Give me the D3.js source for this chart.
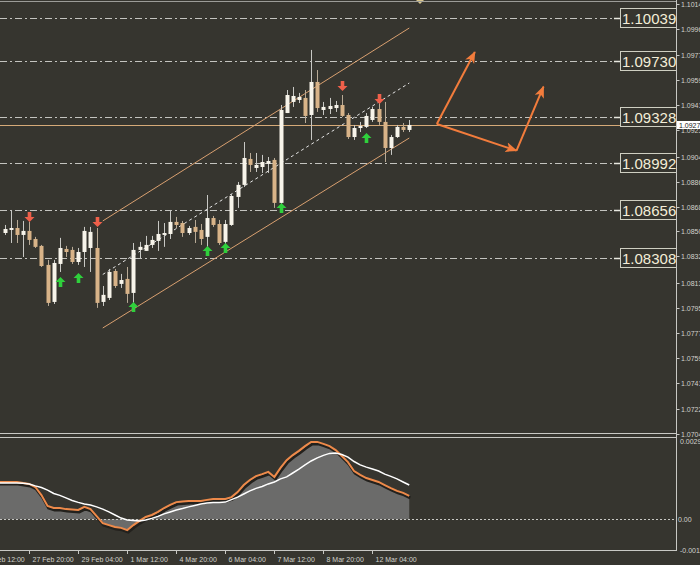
<!DOCTYPE html>
<html><head><meta charset="utf-8">
<script src="https://cdn.jsdelivr.net/npm/d3@7"></script>
<style>body{margin:0;background:#36352f;}svg{display:block}</style>
</head><body>
<svg id="c" width="700" height="565"></svg>
<script>
// ---------- DATA ----------
const barIdx = d3.range(67);
const openP  = [1.08489,1.08511,1.08525,1.08475,1.08504,1.08446,1.08396,1.08259,1.07992,1.08266,1.08374,1.08367,1.08280,1.08352,1.08381,1.08381,1.07992,1.08021,1.08215,1.08122,1.08158,1.08057,1.08367,1.08360,1.08403,1.08432,1.08475,1.08482,1.08569,1.08561,1.08489,1.08533,1.08511,1.08461,1.08597,1.08554,1.08425,1.08547,1.08749,1.08836,1.09023,1.08958,1.08965,1.08987,1.09016,1.08706,1.09354,1.09434,1.09448,1.09463,1.09340,1.09578,1.09376,1.09383,1.09390,1.09412,1.09340,1.09181,1.09246,1.09254,1.09304,1.09383,1.09290,1.09102,1.09181,1.09254,1.09232];
const highP  = [1.08547,1.08655,1.08583,1.08576,1.08569,1.08461,1.08403,1.08295,1.08295,1.08454,1.08396,1.08389,1.08381,1.08533,1.08533,1.08525,1.08107,1.08230,1.08230,1.08194,1.08244,1.08417,1.08425,1.08468,1.08468,1.08576,1.08561,1.08655,1.08605,1.08576,1.08540,1.08583,1.08554,1.08763,1.08612,1.08583,1.08583,1.08770,1.08857,1.09145,1.09066,1.09066,1.09052,1.09037,1.09030,1.09412,1.09520,1.09542,1.09499,1.09520,1.09809,1.09664,1.09434,1.09463,1.09441,1.09484,1.09354,1.09268,1.09290,1.09354,1.09398,1.09426,1.09434,1.09196,1.09268,1.09282,1.09304];
const lowP   = [1.08475,1.08417,1.08417,1.08316,1.08403,1.08381,1.08244,1.07963,1.07977,1.08208,1.08316,1.08266,1.08259,1.08244,1.08208,1.07949,1.07963,1.08006,1.08093,1.08093,1.07985,1.07985,1.08302,1.08360,1.08381,1.08360,1.08389,1.08446,1.08525,1.08461,1.08475,1.08417,1.08403,1.08381,1.08533,1.08403,1.08410,1.08540,1.08670,1.08821,1.08929,1.08929,1.08922,1.08922,1.08670,1.08691,1.09354,1.09398,1.09426,1.09282,1.09160,1.09362,1.09340,1.09347,1.09362,1.09326,1.09167,1.09160,1.09217,1.09246,1.09290,1.09268,1.09001,1.09052,1.09174,1.09217,1.09217];
const closeP = [1.08518,1.08525,1.08475,1.08504,1.08439,1.08389,1.08251,1.07985,1.08273,1.08381,1.08352,1.08280,1.08352,1.08504,1.08497,1.07985,1.08043,1.08208,1.08107,1.08150,1.08050,1.08367,1.08389,1.08403,1.08439,1.08482,1.08489,1.08569,1.08547,1.08489,1.08525,1.08497,1.08446,1.08597,1.08547,1.08417,1.08554,1.08756,1.08836,1.09030,1.08980,1.08980,1.09001,1.09008,1.08706,1.09376,1.09484,1.09477,1.09470,1.09333,1.09578,1.09390,1.09398,1.09405,1.09412,1.09333,1.09181,1.09246,1.09261,1.09333,1.09383,1.09290,1.09102,1.09181,1.09254,1.09232,1.09268];

// signal arrows: [bar, tip price]
const sellArrows = [[4,1.08569],[15,1.08533],[55,1.09513],[61,1.09419]];
const buyArrows  = [[9,1.08172],[12,1.08201],[21,1.07992],[33,1.08396],[36,1.08417],[45,1.08706],[59,1.09210]];

// oscillator (values x 1e-4), bars -1..66
const oscStart = -1;
const oscMain   = [13.3,13.3,13.3,13.3,12.9,12.6,11.5,8.6,4.7,4.0,4.0,3.6,3.5,3.3,4.4,3.6,1.1,-1.4,-2.1,-2.8,-3.1,-3.9,-2.1,-0.6,0.8,1.5,2.6,4.0,5.1,6.1,6.3,6.5,6.5,6.5,6.9,7.2,7.2,7.2,7.9,9.7,12.2,14.0,15.4,16.1,16.9,15.1,18.3,21.1,22.9,24.4,26.1,27.6,27.6,26.9,26.1,24.7,22.6,20.4,17.2,15.8,14.7,14.0,13.3,12.2,11.1,10.1,9.4,8.3];
const oscSignal = [12.9,12.9,12.9,12.9,12.8,12.6,11.9,11.3,10.4,9.2,8.5,7.6,6.7,6.0,5.4,5.1,4.4,3.6,2.6,1.5,0.4,-0.3,-0.5,-0.6,-0.3,0.3,1.0,1.9,2.6,3.3,3.8,4.4,4.9,5.4,5.8,6.0,6.0,6.1,7.0,7.9,9.0,10.1,11.0,11.7,12.6,13.3,14.4,15.1,16.5,17.9,19.4,20.8,21.9,22.8,23.5,23.6,23.1,22.2,20.6,19.4,18.6,17.9,17.2,16.1,15.3,14.4,13.3,12.2];

// price axis
const priceTicks = ["1.1014","1.0996","1.0977","1.0959","1.0941","1.0923","1.0904","1.0886","1.0868","1.0850","1.0832","1.0813","1.0795","1.0777","1.0759","1.0741","1.0722","1.0704"];
const levels = [1.10039,1.09730,1.09328,1.08992,1.08656,1.08308];
const currentPrice = 1.09268;
const oscTicks = [["0.0029",0.0029],["0.00",0],["-0.0011",-0.0011]];

// time axis
const timeTickBars = [-4,4,12,20,28,36,44,52,60];
const timeTickLabels = ["26 Feb 12:00","27 Feb 20:00","29 Feb 04:00","1 Mar 12:00","4 Mar 20:00","6 Mar 04:00","7 Mar 12:00","8 Mar 20:00","12 Mar 04:00"];

// channel [bar, price]
const chanUpper = [[16,1.08576],[66,1.09967]];
const chanLower = [[16,1.07804],[66,1.09174]];
// projection arrows
const projection = [[[70.5,1.09275],[76.7,1.09794]],[[70.5,1.09275],[83.5,1.09083]],[[83.5,1.09083],[87.9,1.09544]]];

// ---------- DRAW ----------
const bg = '#36352f';
const svg = d3.select('#c');
svg.append('rect').attr('width',700).attr('height',565).attr('fill',bg);

const x = d3.scaleLinear().domain([0,66]).range([4.67,409.25]);
const y = d3.scaleLinear().domain([1.07047,1.10169]).range([433,0]);
const yo = d3.scaleLinear().domain([-0.0011,0.0029]).range([550,438]);
const AX = 676.5;

const defs = svg.append('defs');
defs.append('clipPath').attr('id','mainClip').append('rect').attr('x',0).attr('y',0).attr('width',676).attr('height',433);
defs.append('clipPath').attr('id','oscClip').append('rect').attr('x',0).attr('y',438).attr('width',676).attr('height',112);
defs.append('marker').attr('id','ah').attr('markerUnits','userSpaceOnUse')
  .attr('markerWidth',14).attr('markerHeight',12).attr('refX',11).attr('refY',5).attr('orient','auto')
  .append('path').attr('d','M0,0 L12,5 L0,10 L3,5 Z').attr('fill','#f27c3c');

const main = svg.append('g').attr('clip-path','url(#mainClip)');

// level lines
levels.forEach(l=>{
  const yy = Math.round(y(l))+0.5;
  main.append('line').attr('x1',0).attr('x2',613).attr('y1',yy).attr('y2',yy)
    .attr('stroke','#c4c4c0').attr('stroke-width',1).attr('stroke-dasharray','7,3,2,3');
  main.append('line').attr('x1',614).attr('x2',620).attr('y1',yy).attr('y2',yy)
    .attr('stroke','#e8e8e0').attr('stroke-width',1.5);
});

// current price line
const cy = Math.round(y(currentPrice))+0.5;
main.append('line').attr('x1',0).attr('x2',676).attr('y1',cy).attr('y2',cy).attr('stroke','#d6aa78').attr('stroke-width',1);

// channel
const lineGen = d3.line().x(d=>x(d[0])).y(d=>y(d[1]));
main.append('path').attr('d',lineGen(chanUpper)).attr('stroke','#d9a070').attr('fill','none').attr('stroke-width',1);
main.append('path').attr('d',lineGen(chanLower)).attr('stroke','#d9a070').attr('fill','none').attr('stroke-width',1);
const chanMid = chanUpper.map((d,i)=>[d[0],(d[1]+chanLower[i][1])/2]);
main.append('path').attr('d',lineGen(chanMid)).attr('stroke','#e6e6e6').attr('fill','none').attr('stroke-width',1).attr('stroke-dasharray','3,3');

// candles
const cg = main.append('g');
barIdx.forEach(i=>{
  const cx = Math.round(x(i));
  const o=openP[i],c=closeP[i],h=highP[i],l=lowP[i];
  const bull = c>=o;
  cg.append('line').attr('x1',cx+0.5).attr('x2',cx+0.5).attr('y1',y(h)).attr('y2',y(l))
    .attr('stroke', bull?'#c8c8c4':'#b8aa96').attr('stroke-width',1);
  const top = y(Math.max(o,c)), bot = y(Math.min(o,c));
  cg.append('rect').attr('x',cx-1.5).attr('width',4).attr('y',top).attr('height',Math.max(1.2,bot-top))
    .attr('fill', bull?'#f7f4ea':'#d8b388');
});

// signal arrows
const downPath = 'M0,0 L-5,-5 L-1.8,-5 L-1.8,-10 L1.8,-10 L1.8,-5 L5,-5 Z';
const upPath   = 'M0,0 L-5,5 L-1.8,5 L-1.8,10 L1.8,10 L1.8,5 L5,5 Z';
sellArrows.forEach(([b,p])=>{
  main.append('path').attr('d',downPath).attr('transform',`translate(${Math.round(x(b))+0.5},${y(p)})`).attr('fill','#f0604a');
});
buyArrows.forEach(([b,p])=>{
  main.append('path').attr('d',upPath).attr('transform',`translate(${Math.round(x(b))+0.5},${y(p)})`).attr('fill','#2fd03c');
});

// projection arrows
projection.forEach(seg=>{
  main.append('path').attr('d',lineGen(seg)).attr('stroke','#f27c3c').attr('stroke-width',2)
    .attr('fill','none').attr('marker-end','url(#ah)');
});

// shift marker
svg.append('path').attr('d','M416,0 L424,0 L420,4 Z').attr('fill','#d8c68e');

// level label boxes
levels.forEach(l=>{
  const yy = Math.round(y(l));
  svg.append('rect').attr('x',620.5).attr('y',yy-9.5).attr('width',56).attr('height',19)
    .attr('fill',bg).attr('stroke','#cfcfc2').attr('stroke-width',1);
  svg.append('text').attr('x',622).attr('y',yy+5.5).text(l.toFixed(5))
    .attr('font-family','Liberation Sans, Arial, sans-serif').attr('font-size',15).attr('fill','#f3edd8');
});

// panel borders
svg.append('line').attr('x1',0).attr('x2',676).attr('y1',1.5).attr('y2',1.5).attr('stroke','#9c9c98');
svg.append('line').attr('x1',0).attr('x2',AX).attr('y1',433.5).attr('y2',433.5).attr('stroke','#c8c8c4');
svg.append('line').attr('x1',0).attr('x2',AX).attr('y1',437.5).attr('y2',437.5).attr('stroke','#c8c8c4');
svg.append('line').attr('x1',0).attr('x2',AX).attr('y1',550.5).attr('y2',550.5).attr('stroke','#c8c8c4');
svg.append('line').attr('x1',AX).attr('x2',AX).attr('y1',0).attr('y2',551).attr('stroke','#c8c8c4');

// price axis
const font = 'Liberation Sans, Arial, sans-serif';
priceTicks.forEach(t=>{
  const yy = Math.round(y(+t))+0.5;
  svg.append('line').attr('x1',AX).attr('x2',AX+3).attr('y1',yy).attr('y2',yy).attr('stroke','#c8c8c4');
  svg.append('text').attr('x',681).attr('y',yy+2.5).text(t).attr('font-family',font).attr('font-size',7).attr('fill','#d2d2cc');
});
// current price tag
svg.append('rect').attr('x',677).attr('y',cy-4.5).attr('width',23).attr('height',8).attr('fill','#ffffff');
svg.append('text').attr('x',679).attr('y',cy+2.5).text(currentPrice.toFixed(4))
  .attr('font-family',font).attr('font-size',7).attr('fill','#202020');

// oscillator
const og = svg.append('g').attr('clip-path','url(#oscClip)');
const oscBars = oscMain.map((v,k)=>[k+oscStart, v*1e-4]);
const sigBars = oscSignal.map((v,k)=>[k+oscStart, v*1e-4]);
og.append('path').attr('d', d3.area().x(d=>x(d[0])).y0(yo(0)).y1(d=>yo(d[1]))(oscBars)).attr('fill','#6b6b6a');
const zy = Math.round(yo(0))+0.5;
og.append('line').attr('x1',0).attr('x2',676).attr('y1',zy).attr('y2',zy).attr('stroke','#c8c8c4').attr('stroke-dasharray','2,2');
const oLine = d3.line().x(d=>x(d[0])).y(d=>yo(d[1]));
og.append('path').attr('d',oLine(oscBars)).attr('fill','none').attr('stroke','#23211d').attr('stroke-width',3).attr('transform','translate(1,2)');
og.append('path').attr('d',oLine(oscBars)).attr('fill','none').attr('stroke','#ee8a4a').attr('stroke-width',2);
og.append('path').attr('d',oLine(sigBars)).attr('fill','none').attr('stroke','#ffffff').attr('stroke-width',1.5);

oscTicks.forEach(([t,v],k)=>{
  const yy = Math.round(yo(v))+0.5;
  svg.append('text').attr('x',k===1?678:680).attr('y',k===0?yy+5:yy+2.5).text(t).attr('font-family',font).attr('font-size',7).attr('fill','#d2d2cc');
});

// time axis
timeTickBars.forEach((b,k)=>{
  const tx = Math.round(x(b))+0.5;
  svg.append('line').attr('x1',tx).attr('x2',tx).attr('y1',551).attr('y2',554).attr('stroke','#c8c8c4');
  svg.append('text').attr('x',tx+3).attr('y',562).text(timeTickLabels[k]).attr('font-family',font).attr('font-size',7).attr('fill','#d2d2cc');
});
</script>
</body></html>
